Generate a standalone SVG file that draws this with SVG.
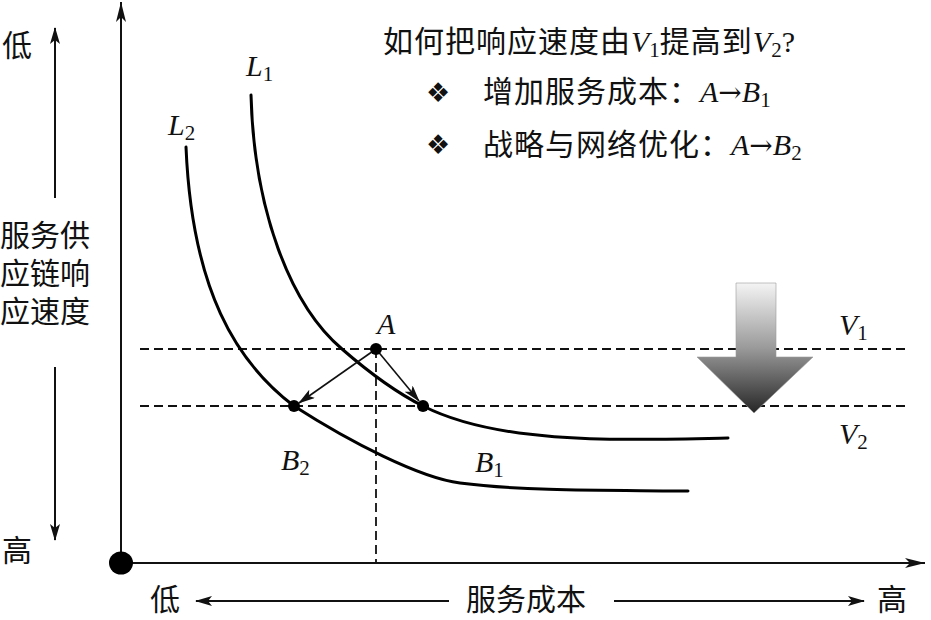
<svg xmlns="http://www.w3.org/2000/svg" width="931" height="620" viewBox="0 0 931 620">
<style>
.cjk{font-family:"Noto Sans CJK SC","Noto Sans",sans-serif;font-size:30px;fill:#111}
.sp{letter-spacing:1px}
.it{font-family:"Liberation Serif",serif;font-style:italic;font-size:30px;fill:#111;letter-spacing:0}
.sub{font-family:"Liberation Serif",serif;font-style:normal;font-size:21px;letter-spacing:0}
.arr{font-family:"DejaVu Serif",serif;font-size:28px;letter-spacing:0}
.dash{stroke:#111;stroke-width:1.8;stroke-dasharray:9 5;fill:none}
.curve{stroke:#000;stroke-width:3;fill:none;stroke-linecap:round}
.ax{stroke:#111;stroke-width:2;fill:none}
.thin{stroke:#111;stroke-width:1.6;fill:none}
.bul{font-family:"DejaVu Sans",sans-serif;font-size:27px;fill:#111}
</style>
<defs>
<marker id="ah" viewBox="0 0 20 10" refX="20" refY="5" markerWidth="20" markerHeight="10" markerUnits="userSpaceOnUse" orient="auto">
<path d="M0,0 L20,5 L0,10 L5,5 Z" fill="#111"/>
</marker>
<marker id="ahs" viewBox="0 0 17 10" refX="16" refY="5" markerWidth="17" markerHeight="10" markerUnits="userSpaceOnUse" orient="auto">
<path d="M0,0 L17,5 L0,10 L4,5 Z" fill="#111"/>
</marker>
<linearGradient id="g" x1="0" y1="283" x2="0" y2="413" gradientUnits="userSpaceOnUse">
<stop offset="0" stop-color="#f4f4f4"/>
<stop offset="0.5" stop-color="#9a9a9a"/>
<stop offset="1" stop-color="#262626"/>
</linearGradient>
</defs>

<g id="axes">
<line class="ax" x1="121" y1="563" x2="121" y2="2" marker-end="url(#ah)"/>
<line class="ax" x1="121" y1="563" x2="925" y2="563" marker-end="url(#ah)"/>
<ellipse cx="121" cy="563" rx="12" ry="11.5" fill="#000"/>
</g>

<g id="y-label">
<text class="cjk" x="2" y="56">低</text>
<line class="ax" x1="55" y1="198" x2="55" y2="28" marker-end="url(#ahs)"/>
<text class="cjk" x="0" y="246">服务供</text>
<text class="cjk" x="0" y="284">应链响</text>
<text class="cjk" x="0" y="322">应速度</text>
<line class="ax" x1="55" y1="367" x2="55" y2="540" marker-end="url(#ahs)"/>
<text class="cjk" x="2" y="561">高</text>
</g>

<g id="x-label">
<text class="cjk" x="150" y="610">低</text>
<line class="ax" x1="449" y1="601" x2="196" y2="601" marker-end="url(#ahs)"/>
<text class="cjk" x="466" y="610">服务成本</text>
<line class="ax" x1="614" y1="601" x2="864" y2="601" marker-end="url(#ahs)"/>
<text class="cjk" x="877" y="610">高</text>
</g>

<g id="guides">
<line class="dash" x1="140" y1="349" x2="905" y2="349"/>
<line class="dash" x1="140" y1="406" x2="905" y2="406"/>
<line class="dash" x1="376" y1="349" x2="376" y2="563"/>
</g>

<g id="L1">
<path class="curve" d="M251,95 C254,210 290,305 342,349 C365,369 395,392 423,406 C500,445 620,440 728,438"/>
<text class="it" x="246" y="76">L<tspan class="sub" dy="5">1</tspan></text>
</g>
<g id="L2">
<path class="curve" d="M186,147 C192,290 236,362 294,406 C350,442 420,478 460,483 C530,492 620,490 688,491"/>
<text class="it" x="168" y="135">L<tspan class="sub" dy="5">2</tspan></text>
</g>

<g id="V1"><text class="it" x="839" y="335">V<tspan class="sub" dy="5">1</tspan></text></g>
<g id="V2"><text class="it" x="839" y="444">V<tspan class="sub" dy="5">2</tspan></text></g>

<g id="connectors">
<line class="thin" x1="376" y1="349" x2="419" y2="401" marker-end="url(#ahs)"/>
<line class="thin" x1="376" y1="349" x2="299" y2="403" marker-end="url(#ahs)"/>
</g>

<g id="A">
<circle cx="376" cy="349" r="6" fill="#000"/>
<text class="it" x="377" y="334">A</text>
</g>
<g id="B1">
<circle cx="423" cy="406" r="6" fill="#000"/>
<text class="it" x="475" y="472">B<tspan class="sub" dy="5">1</tspan></text>
</g>
<g id="B2">
<circle cx="294" cy="406" r="6" fill="#000"/>
<text class="it" x="281" y="470">B<tspan class="sub" dy="5">2</tspan></text>
</g>

<g id="big-arrow">
<path d="M736,283 L776,283 L776,357 L813,357 L754,413 L697,357 L736,357 Z" fill="url(#g)" stroke="#9a9a9a" stroke-width="0.6"/>
</g>

<g id="question">
<text class="cjk sp" x="383" y="52">如何把响应速度由<tspan class="it">V</tspan><tspan class="sub" dy="5">1</tspan><tspan dy="-5">提高到</tspan><tspan class="it">V</tspan><tspan class="sub" dy="5">2</tspan><tspan font-family="Liberation Serif" dy="-5">?</tspan></text>
<text class="bul" x="426" y="102">❖</text>
<text class="cjk sp" x="483" y="102">增加服务成本：<tspan class="it">A</tspan><tspan class="arr">→</tspan><tspan class="it">B</tspan><tspan class="sub" dy="5">1</tspan></text>
<text class="bul" x="426" y="154">❖</text>
<text class="cjk sp" x="483" y="155">战略与网络优化：<tspan class="it">A</tspan><tspan class="arr">→</tspan><tspan class="it">B</tspan><tspan class="sub" dy="5">2</tspan></text>
</g>
</svg>
